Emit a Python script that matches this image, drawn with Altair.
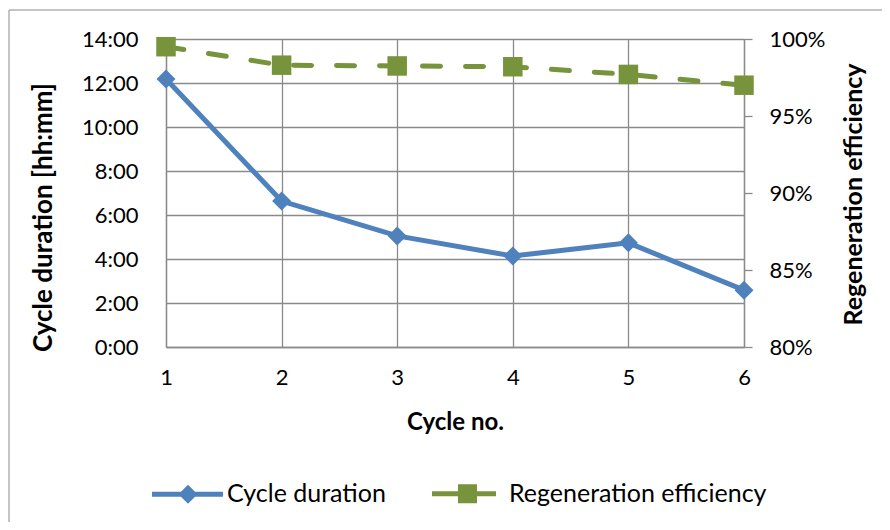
import altair as alt
import pandas as pd

# ---- data ----
cycles = [1, 2, 3, 4, 5, 6]
duration_hhmm = ["12:11", "6:38", "5:03", "4:08", "4:44", "2:35"]
efficiency = [0.995, 0.983, 0.9825, 0.982, 0.977, 0.970]
series = ["Cycle duration", "Regeneration efficiency"]
colors = ["#4F81BD", "#77933C"]
left_ticks = [0, 2, 4, 6, 8, 10, 12, 14]
right_ticks = [0.80, 0.85, 0.90, 0.95, 1.00]

hours = [int(s.split(":")[0]) + int(s.split(":")[1]) / 60 for s in duration_hhmm]
df = pd.DataFrame({"cycle": cycles, "hours": hours, "eff": efficiency})
legend_df = pd.DataFrame({"series": series, "cycle": [1, 1], "hours": [0, 0]})

FONT = "Lato"
GRID = "#8a8a8a"
W, H = 578, 308

# legend symbols: line + marker (pixel units, symbolSize=4 -> scale 1)
sym_paths = [
    "M-36,0L35,0M0,-6L6,0L0,6L-6,0ZM0,-2L2,0L0,2L-2,0Z",
    "M-38,0L26,0M-9.5,-7L4.5,-7L4.5,7L-9.5,7ZM-5,-2.5L0,-2.5L0,2.5L-5,2.5Z",
]

x_enc = alt.X(
    "cycle:Q",
    scale=alt.Scale(domain=[1, 6], nice=False, zero=False),
    axis=alt.Axis(
        values=cycles, format="d", grid=True, gridColor=GRID, gridWidth=1.3,
        ticks=False, domainColor=GRID, domainWidth=1.3, labelFlush=False,
        labelFont=FONT, labelFontSize=22, labelColor="black",
        labelPadding=30, labelBaseline="middle",
        title="Cycle no.", titleFont=FONT, titleFontSize=24, titleFontWeight="bold",
        titleColor="black", titleX=W / 2, titleY=75, titleBaseline="middle",
        titleAlign="center",
    ),
)

y_left = alt.Y(
    "hours:Q",
    scale=alt.Scale(domain=[0, 14], nice=False),
    axis=alt.Axis(
        values=left_ticks, labelExpr="datum.value + ':00'",
        grid=True, gridColor=GRID, gridWidth=1.3, ticks=False,
        domainColor=GRID, domainWidth=1.3,
        labelFont=FONT, labelFontSize=22, labelColor="black", labelPadding=28,
        title="Cycle duration [hh:mm]", titleFont=FONT, titleFontSize=26,
        titleFontWeight="bold", titleColor="black", titleAngle=270,
        titleX=-123, titleY=178, titleBaseline="middle", titleAlign="center",
    ),
)

y_right = alt.Y(
    "eff:Q",
    scale=alt.Scale(domain=[0.8, 1.0], nice=False, zero=False),
    axis=alt.Axis(
        orient="right", values=right_ticks, format=".0%", grid=False,
        ticks=True, tickSize=8, tickColor=GRID, tickWidth=1.3,
        domainColor=GRID, domainWidth=1.3,
        labelFont=FONT, labelFontSize=22, labelColor="black", labelPadding=17,
        title="Regeneration efficiency", titleFont=FONT, titleFontSize=25,
        titleFontWeight="bold", titleColor="black", titleAngle=270,
        titleX=109, titleY=155, titleBaseline="middle", titleAlign="center",
    ),
)

frame = alt.Chart(pd.DataFrame({"a": [0]})).mark_rect(
    fillOpacity=0, stroke="#8a8a8a", strokeWidth=1
).encode(
    x=alt.value(-157), x2=alt.value(760), y=alt.value(-29), y2=alt.value(520)
)

leg = alt.Legend(
    orient="none", legendX=9.5, legendY=442,
    direction="horizontal", title=None, padding=0,
    symbolSize=4, symbolStrokeWidth=5, symbolOpacity=1,
    labelFont=FONT, labelFontSize=25, labelColor="black", labelLimit=0,
    labelOffset=26.5, columnPadding=35,
)

base = alt.Chart(df)
blue_line = base.mark_line(color=colors[0], strokeWidth=5).encode(x=x_enc, y=y_left)
blue_pts = base.mark_point(shape="diamond", filled=True, size=361, opacity=1,
                           color=colors[0]).encode(x=x_enc, y=y_left)

legend_layer = alt.Chart(legend_df).mark_point(
    filled=False, opacity=0, strokeWidth=5
).encode(
    x=x_enc, y=y_left,
    color=alt.Color("series:N", scale=alt.Scale(domain=series, range=colors), legend=leg),
    shape=alt.Shape("series:N", scale=alt.Scale(domain=series, range=sym_paths), legend=leg),
)

green_line = base.mark_line(color=colors[1], strokeWidth=5, strokeDash=[18, 25],
                            strokeCap="round").encode(x=x_enc, y=y_right)
green_pts = base.mark_point(shape="square", filled=True, size=380, opacity=1,
                            color=colors[1]).encode(x=x_enc, y=y_right)

left = alt.layer(frame, blue_line, blue_pts, legend_layer)
right = alt.layer(green_line, green_pts)

chart = alt.layer(left, right).resolve_scale(y="independent").properties(
    width=W, height=H,
    autosize=alt.AutoSizeParams(type="none"),
    padding={"left": 158, "top": 31, "right": 874 - 158 - W, "bottom": 514 - 31 - H},
).configure_view(stroke=None)

chart.save("out.html", embed_options={"renderer": "svg", "actions": False})
